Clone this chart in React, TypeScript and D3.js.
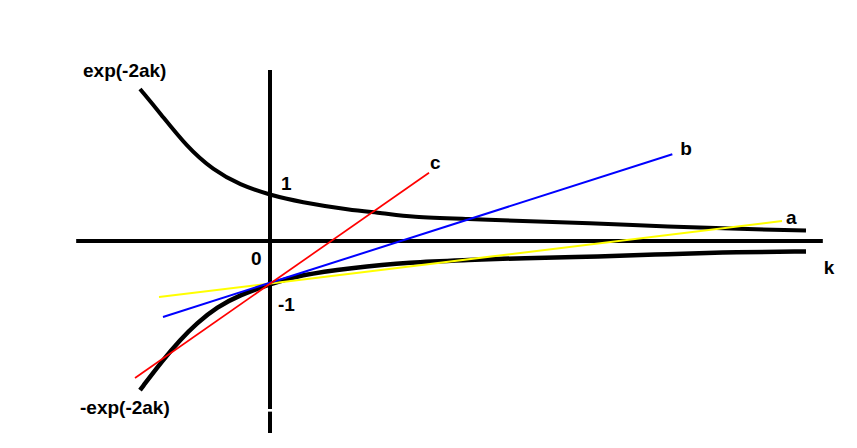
import { useEffect, useRef } from "react";
import * as d3 from "d3";

// k and value units: 1 unit ~ 45.5px on both axes
const upperK = [-2.857, -2.418, -1.824, -1.253, -0.659, 0, 0.659, 1.758, 2.484, 3.077, 4.396, 5.495, 6.967, 8.791, 10.33, 11.78];
const upperV = [3.341, 2.813, 2.066, 1.56, 1.231, 1.011, 0.857, 0.681, 0.615, 0.527, 0.484, 0.44, 0.396, 0.314, 0.264, 0.231];

const lowerK = [-2.857, -2.352, -1.978, -1.604, -1.165, -0.659, 0, 0.659, 1.758, 3.077, 4.396, 5.495, 7.253, 8.725, 10.26, 11.78];
const lowerV = [-3.275, -2.615, -2.176, -1.802, -1.451, -1.187, -0.945, -0.747, -0.593, -0.462, -0.418, -0.374, -0.345, -0.286, -0.242, -0.231];

// tangent lines: [start, end]
const lineNames = ["a", "b", "c"];
const lineColors = ["#ffff00", "#0000ff", "#ff0000"];
const lineK = [[-2.44, 11.253], [-2.352, 8.842], [-2.967, 3.495]];
const lineV = [[-1.231, 0.44], [-1.67, 1.905], [-3.011, 1.501]];

// axis extents
const kAxis = [-4.26, 12.15];
const vAxis = [3.76, -4.22];
const vGap = [-3.69, -3.75];

export default function App() {
    const svgRef = useRef<SVGSVGElement | null>(null);
    const width = 857;
    const height = 448;

    useEffect(() => {
        const svg = d3.select(svgRef.current);
        svg.selectAll("*").remove();

        const x = d3.scaleLinear().domain([0, 1]).range([270, 315.5]);
        const y = d3.scaleLinear().domain([0, 1]).range([241, 195.5]);

        svg.append("rect").attr("width", width).attr("height", height).attr("fill", "white");

        const g = svg.append("g");

        // axes
        g.append("line")
            .attr("x1", x(kAxis[0])).attr("x2", x(kAxis[1]))
            .attr("y1", y(0)).attr("y2", y(0))
            .attr("stroke", "black").attr("stroke-width", 4);
        g.append("line")
            .attr("x1", x(0)).attr("x2", x(0))
            .attr("y1", y(vAxis[0])).attr("y2", y(vGap[0]))
            .attr("stroke", "black").attr("stroke-width", 4);
        g.append("line")
            .attr("x1", x(0)).attr("x2", x(0))
            .attr("y1", y(vGap[1])).attr("y2", y(vAxis[1]))
            .attr("stroke", "black").attr("stroke-width", 4);

        const upper = upperK.map((k, i) => [x(k), y(upperV[i])] as [number, number]);
        const lower = lowerK.map((k, i) => [x(k), y(lowerV[i])] as [number, number]);
        const path = d3.line().curve(d3.curveBasis);

        g.append("path")
            .attr("d", path(upper))
            .attr("fill", "none").attr("stroke", "black").attr("stroke-width", 4);
        g.append("path")
            .attr("d", path(lower))
            .attr("fill", "none").attr("stroke", "black").attr("stroke-width", 4.5);

        lineNames.forEach((name, i) => {
            g.append("line")
                .attr("x1", x(lineK[i][0])).attr("y1", y(lineV[i][0]))
                .attr("x2", x(lineK[i][1])).attr("y2", y(lineV[i][1]))
                .attr("stroke", lineColors[i])
                .attr("stroke-width", name == "c" ? 1.7 : 2);
        });

        const text = (s: string, px: number, py: number) =>
            g.append("text")
                .attr("x", px).attr("y", py)
                .style("font-family", "'Liberation Sans', Arial, sans-serif")
                .style("font-weight", "bold")
                .style("font-size", "19px")
                .attr("fill", "black")
                .text(s);

        // labels, placed next to the ends of their marks
        text("exp(-2ak)", x(upperK[0]) - 57, y(upperV[0]) - 12);
        text("-exp(-2ak)", x(lowerK[0]) - 60, y(lowerV[0]) + 24);
        text("1", x(0) + 11, y(1) - 6);
        text("0", x(0) - 19, y(0) + 24);
        text("-1", x(0) + 8, y(-1) + 24);
        lineNames.forEach((name, i) => {
            text(name, x(lineK[i][1]) + [4, 8, 1][i], y(lineV[i][1]) + [3, 1, -4][i]);
        });
        text("k", x(kAxis[1]) + 1, y(0) + 33);
    }, []);

    return (
        <div style={{ position: "absolute", left: 0, top: 0 }}>
            <svg ref={svgRef} width={width} height={height} style={{ display: "block" }}></svg>
        </div>
    );
}
